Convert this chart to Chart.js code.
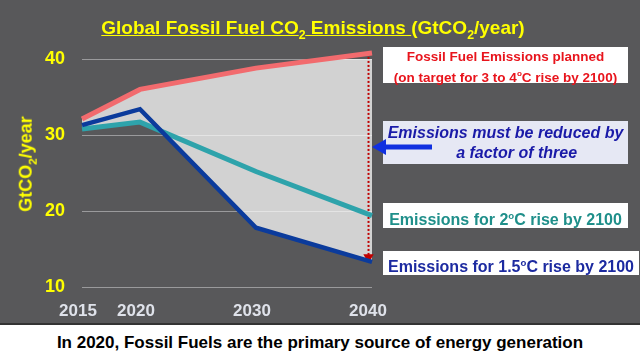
<!DOCTYPE html>
<html>
<head>
<meta charset="utf-8">
<script src="https://cdn.jsdelivr.net/npm/chart.js@4.4.1/dist/chart.umd.min.js"></script>
<style>
  body { margin: 0; background: #58585a; font-family: "Liberation Sans", Arial, sans-serif; }
  #wrap { position: relative; width: 640px; height: 360px; overflow: hidden; background: #58585a; }
  #chart { position: absolute; left: 0; top: 0; }
  #title { position: absolute; left: 0; top: 17px; width: 626px; text-align: center; color: #ffff00; font-weight: bold; font-size: 19px; }
  #title sub, #ytitle sub { font-size: 0.65em; }
  #ytitle { position: absolute; left: 27px; top: 164px; transform: translate(-50%, -50%) rotate(-90deg); color: #ffff00; font-weight: bold; font-size: 18px; white-space: nowrap; }
  .box { position: absolute; background: #fff; font-weight: bold; text-align: center; white-space: nowrap; }
  .box sup { font-size: 0.6em; }
  #footer { position: absolute; left: 0; top: 323px; width: 640px; height: 35px; background: #fff; border-top: 2px solid #333; text-align: center; line-height: 35px; font-weight: bold; font-size: 17px; color: #000; }
  #arrow { position: absolute; left: 370px; top: 137px; }
</style>
</head>
<body>
<div id="wrap">
  <canvas id="chart" width="640" height="323"></canvas>
  <div id="title"><u>Global Fossil Fuel CO<sub>2</sub> Emissions </u>(GtCO<sub>2</sub>/year)</div>
  <div id="ytitle">GtCO<sub>2</sub>/year</div>

  <div class="box" style="left:383px;top:47px;width:245px;height:36px;color:#e8141c;font-size:13.5px;line-height:17px;padding-top:1px;box-sizing:border-box;">
    Fossil Fuel Emissions planned<br>(on target for 3 to 4<sup>o</sup>C rise by 2100)
  </div>
  <div class="box" style="left:383px;top:121px;width:245px;height:43px;background:#e6e8f4;color:#1a1aa8;font-size:16px;font-style:italic;line-height:20px;padding-top:2px;box-sizing:border-box;">
    Emissions must be reduced by<br>&nbsp;&nbsp;&nbsp;&nbsp;&nbsp;a factor of three
  </div>
  <div class="box" style="left:383px;top:203px;width:245px;height:25px;color:#1f8f8a;font-size:16px;line-height:25px;">
    Emissions for 2<sup>o</sup>C rise by 2100
  </div>
  <div class="box" style="left:383px;top:251px;width:256px;height:24px;color:#1c2aa0;font-size:16px;line-height:24px;">
    Emissions for 1.5<sup>o</sup>C rise by 2100
  </div>

  <svg id="arrow" width="66" height="20" viewBox="0 0 66 20">
    <polygon points="2,10 16,2 16,7.5 62,7.5 62,12.5 16,12.5 16,18" fill="#1030e0"/>
  </svg>

  <div id="footer">In 2020, Fossil Fuels are the primary source of energy generation</div>
</div>

<script>
// emissions data (GtCO2/year)
const years = [2015, 2020, 2030, 2040];
const plannedValues = [32.1, 36.0, 38.8, 40.8];
const limit15Values = [31.3, 33.4, 17.8, 13.3];
const limit2Values = [30.8, 31.7, 25.2, 19.4];

// dotted "gap" marker at 2040
const gapYears = [2039.7, 2039.7];
const gapValues = [40.8, 13.9];

const xTicks = [2015, 2020, 2030, 2040];
const yTicks = [10, 20, 30, 40];

function toPoints(xs, ys) {
    return xs.map((x, i) => ({ x: x, y: ys[i] }));
}

// grid lines drawn after the fills but before the lines
const gridOverFill = {
    id: "gridOverFill",
    beforeDatasetsDraw(chart) {
        const { ctx, chartArea, scales } = chart;
        ctx.save();
        ctx.strokeStyle = "rgba(255,255,255,0.4)";
        ctx.lineWidth = 1;
        yTicks.forEach(v => {
            const y = Math.round(scales.y.getPixelForValue(v)) + 0.5;
            ctx.beginPath();
            ctx.moveTo(chartArea.left, y);
            ctx.lineTo(chartArea.right, y);
            ctx.stroke();
        });
        ctx.restore();
    }
};

const chart = new Chart(document.getElementById("chart"), {
    type: "line",
    data: {
        datasets: [{
            label: "Planned",
            data: toPoints(years, plannedValues),
            borderColor: "#f26b6e",
            borderWidth: 5,
            fill: false
        }, {
            label: "1.5C",
            data: toPoints(years, limit15Values),
            borderColor: "#0b3b9c",
            borderWidth: 4.5,
            backgroundColor: "#d2d2d2",
            fill: "0"
        }, {
            label: "2C",
            data: toPoints(years, limit2Values),
            borderColor: "#2ea3ab",
            borderWidth: 5,
            backgroundColor: "#d2d2d2",
            fill: "0"
        }, {
            label: "gap",
            data: toPoints(gapYears, gapValues),
            borderColor: "#c00000",
            backgroundColor: "#c00000",
            borderWidth: 2,
            borderDash: [2, 2],
            pointRadius: [0, 4],
            pointStyle: "triangle",
            pointRotation: 180,
            fill: false
        }]
    },
    options: {
        responsive: false,
        animation: false,
        elements: {
            point: { radius: 0 },
            line: { tension: 0, borderJoinStyle: "miter" }
        },
        layout: { padding: { left: 0, right: 268, top: 59, bottom: 0 } },
        plugins: {
            legend: { display: false },
            tooltip: { enabled: false },
            filler: { drawTime: "beforeDatasetsDraw" }
        },
        scales: {
            x: {
                type: "linear",
                min: 2015,
                max: 2040,
                afterBuildTicks: scale => { scale.ticks = xTicks.map(v => ({ value: v })); },
                afterFit: scale => { scale.height = 36; },
                grid: { display: false },
                border: { display: false },
                ticks: {
                    color: "#dfe2ea",
                    padding: 6,
                    labelOffset: -4,
                    font: { family: "Liberation Sans", weight: "bold", size: 17 },
                    callback: v => String(v)
                }
            },
            y: {
                min: 10,
                max: 40,
                afterBuildTicks: scale => { scale.ticks = yTicks.map(v => ({ value: v })); },
                afterFit: scale => { scale.width = 82; },
                grid: { display: false },
                border: { display: false },
                ticks: {
                    color: "#ffff00",
                    padding: 9,
                    font: { family: "Liberation Sans", weight: "bold", size: 18 }
                }
            }
        }
    },
    plugins: [gridOverFill]
});
chart.data.datasets.forEach(ds => { ds.clip = false; });
chart.update();
</script>
</body>
</html>
